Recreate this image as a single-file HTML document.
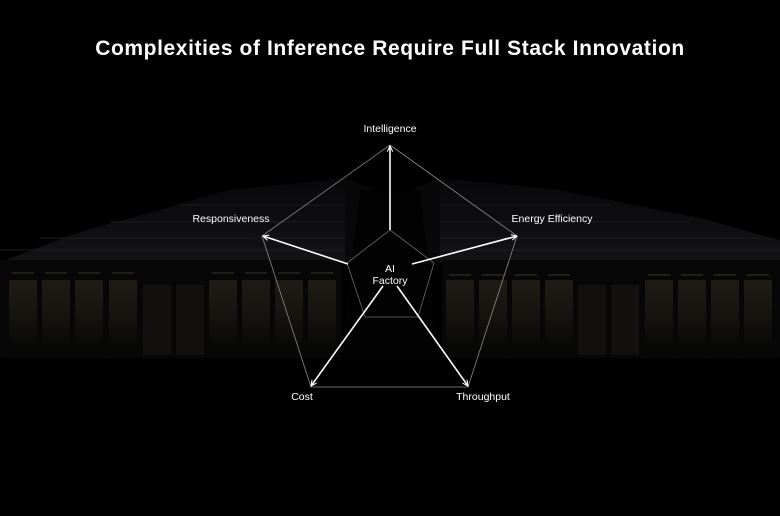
<!DOCTYPE html>
<html><head><style>
html,body{margin:0;padding:0;background:#000;}
body{width:780px;height:516px;overflow:hidden;position:relative;font-family:"Liberation Sans",sans-serif;}
</style></head><body>
<svg width="780" height="516" viewBox="0 0 780 516" xmlns="http://www.w3.org/2000/svg" style="position:absolute;left:0;top:0">
<defs>
<linearGradient id="cab" x1="0" y1="0" x2="0" y2="1">
<stop offset="0" stop-color="#1f1c16"/><stop offset="0.5" stop-color="#15130f"/><stop offset="1" stop-color="#050505"/>
</linearGradient>
<linearGradient id="top" x1="0" y1="0" x2="0" y2="1">
<stop offset="0" stop-color="#08080a"/><stop offset="1" stop-color="#131315"/>
</linearGradient>
<marker id="ah" viewBox="0 0 10 10" refX="9" refY="5" markerWidth="7" markerHeight="7" orient="auto" markerUnits="userSpaceOnUse">
<path d="M1,1 L9,5 L1,9" fill="none" stroke="#fff" stroke-width="1.5"/>
</marker>
</defs>
<rect width="780" height="516" fill="#000"/>
<polygon points="0,262 80,232 230,190 345,178 345,262" fill="url(#top)"/>
<polygon points="440,178 560,190 700,218 780,240 780,262 440,262" fill="url(#top)"/>
<g stroke="#1c1c20" stroke-width="1">
<line x1="0" y1="250" x2="345" y2="250"/><line x1="40" y1="238" x2="345" y2="238"/>
<line x1="110" y1="222" x2="345" y2="222"/><line x1="180" y1="205" x2="345" y2="205"/>
<line x1="440" y1="250" x2="780" y2="250"/><line x1="440" y1="238" x2="760" y2="238"/>
<line x1="440" y1="222" x2="690" y2="222"/><line x1="440" y1="205" x2="610" y2="205"/>
</g>
<polygon points="345,178 375,190 372,265 345,262" fill="#080809"/>
<polygon points="440,178 410,190 413,265 440,262" fill="#080809"/>
<rect x="0" y="260" width="342" height="98" fill="#070707"/>
<rect x="442" y="260" width="338" height="98" fill="#070707"/>
<g fill="url(#cab)">
<rect x="9" y="280" width="28" height="75"/><rect x="42" y="280" width="28" height="75"/>
<rect x="75" y="280" width="28" height="75"/><rect x="109" y="280" width="28" height="75"/>
<rect x="209" y="280" width="28" height="75"/><rect x="242" y="280" width="28" height="75"/>
<rect x="275" y="280" width="28" height="75"/><rect x="308" y="280" width="28" height="75"/>
<rect x="446" y="280" width="28" height="75"/><rect x="479" y="280" width="28" height="75"/>
<rect x="512" y="280" width="28" height="75"/><rect x="545" y="280" width="28" height="75"/>
<rect x="645" y="280" width="28" height="75"/><rect x="678" y="280" width="28" height="75"/>
<rect x="711" y="280" width="28" height="75"/><rect x="744" y="280" width="28" height="75"/>
</g>
<g fill="#121110">
<rect x="143" y="285" width="28" height="70"/><rect x="176" y="285" width="28" height="70"/>
<rect x="578" y="285" width="28" height="70"/><rect x="611" y="285" width="28" height="70"/>
</g>
<g stroke="#3a372e" stroke-width="1">
<line x1="12" y1="273" x2="34" y2="273"/><line x1="45" y1="273" x2="67" y2="273"/><line x1="78" y1="273" x2="100" y2="273"/><line x1="112" y1="273" x2="134" y2="273"/>
<line x1="212" y1="273" x2="234" y2="273"/><line x1="245" y1="273" x2="267" y2="273"/><line x1="278" y1="273" x2="300" y2="273"/><line x1="311" y1="273" x2="333" y2="273"/>
<line x1="449" y1="275" x2="471" y2="275"/><line x1="482" y1="275" x2="504" y2="275"/><line x1="515" y1="275" x2="537" y2="275"/><line x1="548" y1="275" x2="570" y2="275"/>
<line x1="648" y1="275" x2="670" y2="275"/><line x1="681" y1="275" x2="703" y2="275"/><line x1="714" y1="275" x2="736" y2="275"/><line x1="747" y1="275" x2="769" y2="275"/>
</g>
<polygon points="360,190 420,190 440,360 340,360" fill="#020202"/>
<polygon points="390,145 517,236 468,387 311,387 262,236" fill="none" stroke="#8a8a8a" stroke-width="0.8"/>
<polygon points="390,230 434,263 418,317 365,317 347,263" fill="none" stroke="#6a6a6a" stroke-width="0.8"/>
<g stroke="#fff" stroke-width="1.6" fill="none" marker-end="url(#ah)">
<line x1="390" y1="230" x2="390" y2="146"/>
<line x1="348" y1="264" x2="263" y2="236"/>
<line x1="412" y1="264" x2="517" y2="236"/>
<line x1="383" y1="286" x2="311" y2="386"/>
<line x1="397" y1="286" x2="468" y2="386"/>
</g>
<g fill="#fff" font-size="10.5" text-anchor="middle" font-family="Liberation Sans, sans-serif">
<text x="390" y="132">Intelligence</text>
<text x="231" y="222">Responsiveness</text>
<text x="552" y="222">Energy Efficiency</text>
<text x="302" y="400">Cost</text>
<text x="483" y="400">Throughput</text>
<text x="390" y="272">AI</text>
<text x="390" y="284">Factory</text>
</g>
<text x="390" y="55" fill="#fff" font-size="21" font-weight="bold" letter-spacing="0.6" text-anchor="middle" font-family="Liberation Sans, sans-serif">Complexities of Inference Require Full Stack Innovation</text>
</svg>
</body></html>
